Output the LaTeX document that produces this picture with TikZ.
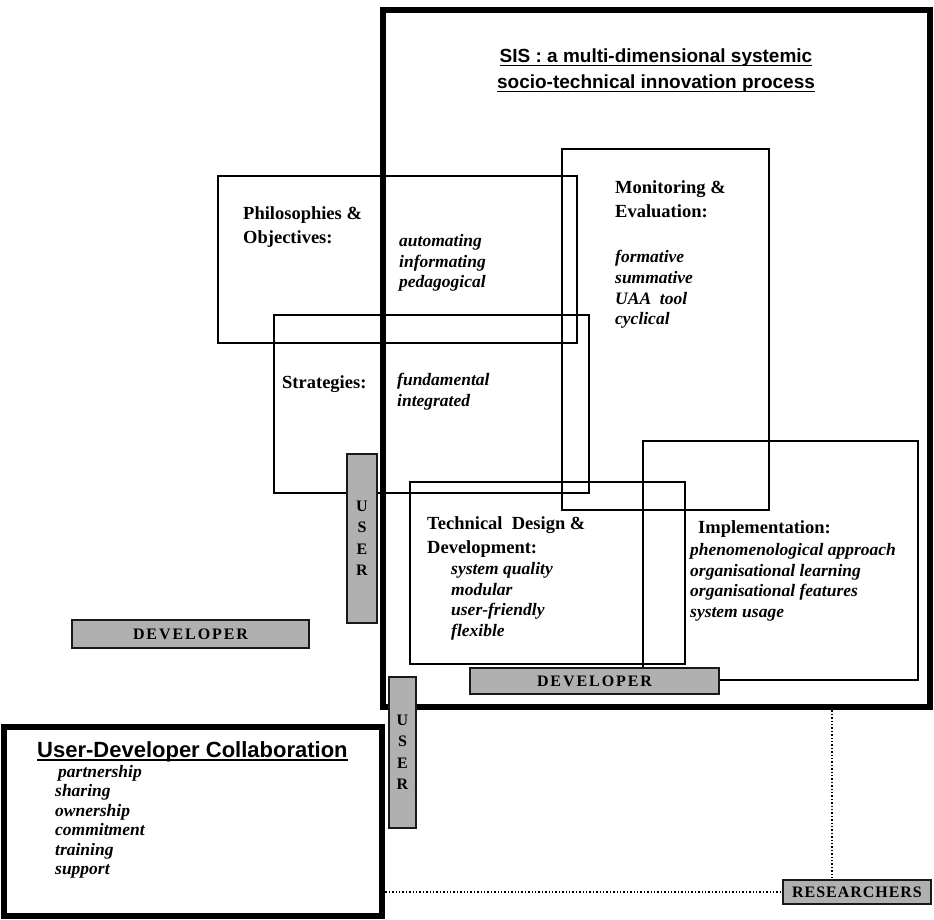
\documentclass[tikz,border=0pt]{standalone}
\usepackage{fontspec}
\setmainfont{Liberation Serif}
\setsansfont{Liberation Sans}
\usetikzlibrary{positioning,calc}

\tikzset{
  panel/.style={draw, line width=1.6pt, anchor=north west, inner sep=0pt, outer sep=0pt},
  heavypanel/.style={draw, line width=5.5pt, anchor=north west, inner sep=0pt, outer sep=0pt},
  heading/.style={anchor=north west, inner sep=0pt, align=left,
    font=\bfseries\fontsize{18.5}{24.5}\selectfont},
  items/.style={anchor=north west, inner sep=0pt, align=left,
    font=\bfseries\itshape\fontsize{17.5}{20.8}\selectfont},
  greybar/.style={draw=black!90, line width=1.6pt, fill=gray!62, inner sep=0pt, outer sep=0pt,
    anchor=north west, font=\bfseries\fontsize{16}{21.5}\selectfont, text=black},
  link/.style={dotted, line width=1.4pt},
}
\newcommand{\sisul}[1]{\setbox0\hbox{#1}\rlap{\rule[-3.5pt]{\wd0}{1.6pt}}\box0}

\begin{document}
\begin{tikzpicture}[x=1pt, y=-1pt]
  \useasboundingbox (0,0) rectangle (934,920);

  % the frames
  \node[heavypanel, minimum width=547pt, minimum height=697pt] (sis) at (383,10) {};
  \node[heavypanel, minimum width=378pt, minimum height=189pt] (collab) at (4,727) {};
  \node[panel, minimum width=359pt, minimum height=167pt] (philo) at (218,176) {};
  \node[panel, minimum width=315pt, minimum height=178pt] (strat) at (274,315) {};
  \node[panel, minimum width=207pt, minimum height=361pt] (monit) at (562,149) {};
  \node[panel, minimum width=275pt, minimum height=182pt] (techn) at (410,482) {};
  \node[panel, minimum width=275pt, minimum height=239pt] (implem) at (643,441) {};

  % titles
  \node[font=\sffamily\bfseries\fontsize{19}{26}\selectfont, align=center] (title) at (656,71)
    {\sisul{SIS : a multi-dimensional systemic}\\\sisul{socio-technical innovation process}};
  \node[font=\sffamily\bfseries\fontsize{22}{26}\selectfont, anchor=north west, inner sep=0pt]
    (collabhead) at (37,741) {\sisul{User-Developer Collaboration}};

  % the dimensions
  \node[heading] (philohead) at (243,206) {Philosophies \&\\Objectives:};
  \node[items] (philoitems) at (399,234) {automating\\informating\\pedagogical};
  \node[heading] (strathead) at (282,375) {Strategies:};
  \node[items] (stratitems) at (397,373) {fundamental\\integrated};
  \node[heading] (monithead) at (615,180) {Monitoring \&\\Evaluation:};
  \node[items] (monititems) at (615,250) {formative\\summative\\UAA\ \ tool\\cyclical};
  \node[heading] (technhead) at (427,516) {Technical\ \ Design \&\\Development:};
  \node[items] (technitems) at (451,562) {system quality\\modular\\user-friendly\\flexible};
  \node[heading] (implemhead) at (698,520) {Implementation:};
  \node[items] (implemitems) at (690,543)
    {phenomenological approach\\organisational learning\\organisational features\\system usage};
  \node[items, font=\bfseries\itshape\fontsize{17.5}{19.5}\selectfont] (collabitems) at (55,765)
    {\hspace{3pt}partnership\\sharing\\ownership\\commitment\\training\\support};

  % actors
  \node[greybar, minimum width=30pt, minimum height=169pt, align=center] (usera) at (347,454) {U\\S\\E\\R};
  \node[greybar, minimum width=237pt, minimum height=28pt] (deva) at (72,620) {\addfontfeatures{LetterSpace=12}DEVELOPER};
  \node[greybar, minimum width=249pt, minimum height=26pt] (devb) at (470,668) {\addfontfeatures{LetterSpace=12}DEVELOPER};
  \node[greybar, minimum width=27pt, minimum height=151pt, align=center] (userb) at (389,677) {U\\S\\E\\R};
  \node[greybar, minimum width=148pt, minimum height=24pt] (research) at (783,880) {\addfontfeatures{LetterSpace=6}RESEARCHERS};

  % dotted links
  \coordinate (tap) at (832,0);
  \draw[link] (collab.east |- research.west) -- (research.west);
  \draw[link] (sis.south -| tap) -- (tap |- research.north);
\end{tikzpicture}
\end{document}
